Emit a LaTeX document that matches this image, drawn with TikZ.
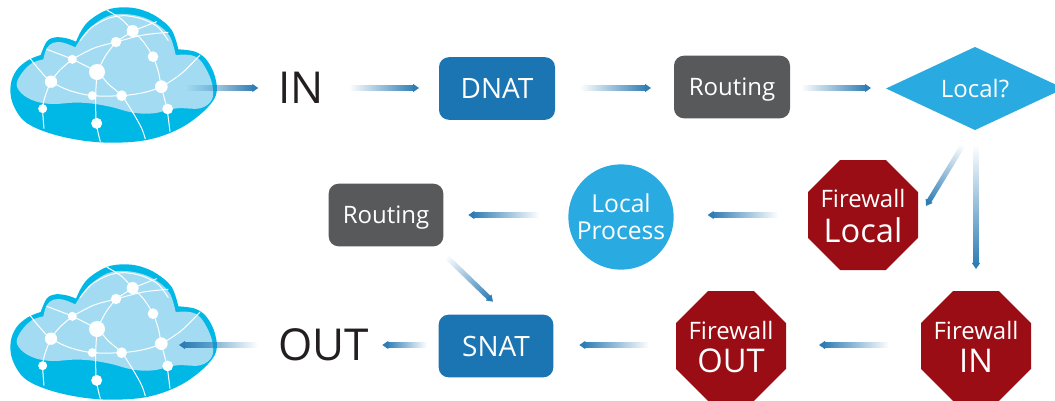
\documentclass[tikz,border=0pt]{standalone}
\usepackage{fontspec}
\setmainfont{Open Sans}
\usetikzlibrary{calc,fadings,shapes.geometric}
\definecolor{cloudout}{HTML}{00B8E6}
\definecolor{cloudin}{HTML}{A3DCF2}
\definecolor{boxblue}{HTML}{1C75B3}
\definecolor{boxgray}{HTML}{58595B}
\definecolor{lightblue}{HTML}{29ABE2}
\definecolor{stopred}{HTML}{9B0D15}
\definecolor{arrowblue}{HTML}{2E7DB5}
\definecolor{inktext}{HTML}{231F20}
\tikzfading[name=tailfade,left color=transparent!100,right color=transparent!0]
\newcommand{\fsz}[2]{\fontsize{#1}{#2}\selectfont}
\newcommand{\gradarrow}[2]{%
  \coordinate (gastart) at ($#1$);
  \coordinate (gaend) at ($#2$);
  \path let \p1=($(gaend)-(gastart)$),\n1={atan2(\y1,\x1)},\n2={veclen(\x1,\y1)} in
    \pgfextra{\xdef\gaAngle{\n1}\xdef\gaLen{\n2}};
  \path[fill=arrowblue,path fading=tailfade,
    transform canvas={shift={(gastart)},rotate=\gaAngle}]
    (0pt,-1.9pt) rectangle ({\gaLen-3pt},1.9pt);
  \path[fill=arrowblue,transform canvas={shift={(gastart)},rotate=\gaAngle}]
    ({\gaLen-4.5pt},-3.1pt) -- (\gaLen,0pt) -- ({\gaLen-4.5pt},3.1pt) -- cycle;
}
\tikzset{
  every node/.style={inner sep=0pt,outer sep=0pt,align=center},
  roundbox/.style={rounded corners=7.5pt,minimum width=87pt,minimum height=47pt,text=white,text depth=0pt},
  stopsign/.style={regular polygon,regular polygon sides=8,
    minimum size=89.3pt,fill=stopred},
  stoptext/.style={text=white,font=\fsz{18}{18}},
  netline/.style={draw=white,line width=.75pt},
  bigword/.style={text=inktext,font=\fsz{33}{33}},
  cloud/.pic={
    \begin{scope}[x=.25pt,y=-.25pt]
      \fill[cloudout]
        plot[smooth,tension=.6] coordinates {(122,165) (85,180) (50,210) (32,255) (38,310) (75,365) (150,400) (250,422) (350,428) (450,418) (540,385) (610,335) (648,285) (645,230) (620,180) (585,155) (535,148)}
        -- plot[smooth,tension=.6] coordinates {(535,148) (515,90) (470,50) (420,28) (370,22) (320,30) (270,60) (245,90) (228,125)}
        -- plot[smooth,tension=.6] coordinates {(228,125) (200,115) (165,112) (140,125) (122,165)} -- cycle;
      \fill[cloudin]
        plot[smooth,tension=.6] coordinates {(130,178) (95,190) (65,220) (50,255) (70,285) (110,305) (160,312) (220,308) (270,310) (330,320) (400,338) (460,340) (530,325) (600,325) (635,300) (638,260) (625,220) (600,180) (570,165) (527,165)}
        -- plot[smooth,tension=.6] coordinates {(527,165) (510,110) (475,75) (430,52) (375,42) (325,48) (280,75) (250,105) (226,142)}
        -- plot[smooth,tension=.6] coordinates {(226,142) (190,128) (160,128) (140,145) (130,178)} -- cycle;
      \draw[netline] plot[smooth] coordinates {(240,122) (275,82) (325,55) (375,47) (430,58) (475,82) (505,122)};
      \draw[netline] plot[smooth] coordinates {(320,30) (365,58) (398,93)};
      \draw[netline] (398,93) -- (470,65);
      \draw[netline] plot[smooth] coordinates {(217,178) (280,145) (348,126) (430,105) (505,97)};
      \draw[netline] (348,126) -- (398,93);
      \draw[netline] plot[smooth] coordinates {(398,93) (430,125) (459,170) (475,215) (484,260) (497,310) (503,340) (510,395)};
      \draw[netline] plot[smooth] coordinates {(348,126) (318,165) (291,216)};
      \draw[netline] plot[smooth] coordinates {(140,148) (180,163) (217,178) (291,216) (325,252) (365,287) (400,340) (425,385) (436,417)};
      \draw[netline] plot[smooth] coordinates {(217,178) (180,210) (153,245) (135,290) (128,326) (132,386)};
      \draw[netline] plot[smooth] coordinates {(90,175) (120,212) (153,245) (210,272) (277,287) (365,287) (430,278) (484,260) (545,220) (600,165)};
      \draw[netline] plot[smooth] coordinates {(291,216) (287,290) (289,370) (301,425)};
      \foreach \cx/\cy/\cr in {398/93/18,348/126/15.5,459/170/16,217/178/13.5,291/216/24,153/245/18.5,484/260/19,277/287/13.5,365/287/16,503/327/16,128/326/13.5,290/370/16.5}
        \fill[white] (\cx,\cy) circle [radius=\cr*.25pt];
    \end{scope}
  }
}
\begin{document}
\begin{tikzpicture}[x=.75pt,y=-.75pt]
\useasboundingbox (0,0) rectangle (1055,400);
\pic at (0,0) {cloud};
\pic at (0,257) {cloud};
\coordinate (cloudA) at (185,88);
\coordinate (cloudB) at (179,345);
\node[bigword] (nin) at (301,88) {IN};
\node[bigword] (nout) at (324,345) {OUT};
\node[roundbox,fill=boxblue,font=\fsz{21}{21}] (dnat) at (497,88.5) {DNAT};
\node[roundbox,fill=boxgray,font=\fsz{18}{18}] (route1) at (732,87) {Routing};
\node[diamond,aspect=2.14,minimum width=133.5pt,minimum height=62.3pt,fill=lightblue,text=white,font=\fsz{18}{18}] (local) at (975,88.5) {Local?};
\node[stopsign] (fwlocal) at (863,215) {};
\node[stoptext] (fwlocaltext) at (863,216) {Firewall\\[7pt]{\fsz{24.5}{24.5}Local}};
\node[circle,minimum size=79pt,fill=lightblue,text=white,font=\fsz{18.5}{20}] (proc) at (621,217) {Local\\Process};
\node[roundbox,minimum width=86pt,fill=boxgray,font=\fsz{18}{18}] (route2) at (386,215) {Routing};
\node[roundbox,minimum width=86pt,fill=boxblue,font=\fsz{21}{21}] (snat) at (496,346) {SNAT};
\node[stopsign] (fwout) at (731,346) {};
\node[stoptext] (fwouttext) at (731,347) {Firewall\\[7pt]{\fsz{24.5}{24.5}OUT}};
\node[stopsign] (fwin) at (976,346) {};
\node[stoptext] (fwintext) at (976,347) {Firewall\\[7pt]{\fsz{24.5}{24.5}IN}};
\gradarrow{(cloudA)}{(nin.west)+(-20,0)}
\gradarrow{(nin.east)+(25,0)}{(dnat.west)+(-20,-0.5)}
\gradarrow{(dnat.east)+(25,-0.5)}{(route1.west)+(-23,1)}
\gradarrow{(route1.east)+(11,1)}{(local.west)+(-15,-0.5)}
\gradarrow{(local.south)+(-12,15)}{(fwlocal.east)+(8,-9)}
\gradarrow{(local.south)+(1,15)}{(fwin.north)+(0,-22)}
\gradarrow{(fwlocal.west)+(-30,0)}{(proc.east)+(34,-2)}
\gradarrow{(proc.west)+(-29,-2)}{(route2.east)+(25,0)}
\gradarrow{(route2.south)+(60,10)}{(snat.north)+(-3,-13)}
\gradarrow{(fwin.west)+(-32,-1)}{(fwout.east)+(33,-1)}
\gradarrow{(fwout.west)+(-27,-1)}{(snat.east)+(26,-1)}
\gradarrow{(snat.west)+(-12,-1)}{(nout.east)+(13,0)}
\gradarrow{(nout.west)+(-21,0)}{(cloudB)}
\end{tikzpicture}
\end{document}
